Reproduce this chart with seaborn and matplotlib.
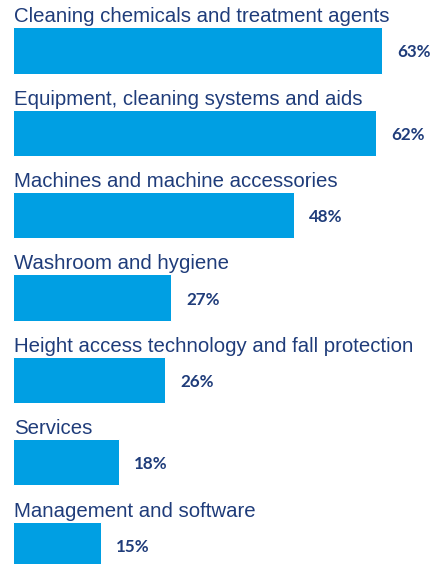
import matplotlib
matplotlib.use("Agg")
import matplotlib.pyplot as plt
import seaborn as sns
import pandas as pd

categories = [
    "Cleaning chemicals and treatment agents",
    "Equipment, cleaning systems and aids",
    "Machines and machine accessories",
    "Washroom and hygiene",
    "Height access technology and fall protection",
    "Services",
    "Management and software",
]
values = [63, 62, 48, 27, 26, 18, 15]
value_labels = ["63%", "62%", "48%", "27%", "26%", "18%", "15%"]

df = pd.DataFrame({"category": categories, "value": values})

sns.set_theme(style="white")
plt.rcParams["font.family"] = ["Liberation Sans", "DejaVu Sans"]

BAR = "#009FE3"
TXT = "#1F3C7A"

fig = plt.figure(figsize=(432 / 72, 564 / 72), dpi=72)
ax = fig.add_axes([13.3 / 432, 0, 1 - 13.3 / 432, 1])

sns.barplot(data=df, x="value", y="category", orient="h", color=BAR,
            width=0.56, saturation=1, ax=ax)

ax.set_xlim(0, 71.57)
ax.set_ylim(6.236, -0.613)
ax.axis("off")

for i, (cat, lab, v) in enumerate(zip(categories, value_labels, values)):
    ax.annotate(cat, xy=(0, i - 0.28), xytext=(0.5, 5), textcoords="offset points",
                ha="left", va="baseline", fontsize=20.4, color=TXT)
    ax.annotate(lab, xy=(v, i), xytext=(15, -2), textcoords="offset points",
                ha="left", va="center", fontsize=17, fontweight="bold",
                color=TXT, family=["Lato", "DejaVu Sans"])

fig.savefig("out.png", dpi=72)
